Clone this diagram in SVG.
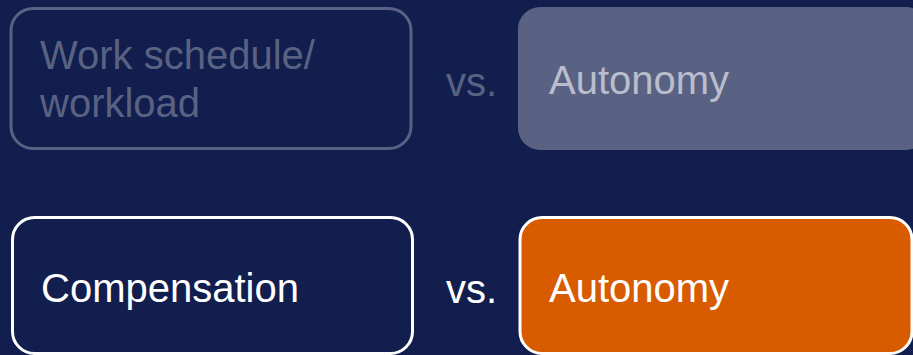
<svg xmlns="http://www.w3.org/2000/svg" width="913" height="355" viewBox="0 0 913 355">
  <style>
    .lbl { font-family: "Liberation Sans", Arial, sans-serif; font-size: 40px; }
    .muted-box { fill: none; stroke: #596283; stroke-width: 3; }
    .muted-fill { fill: #596283; }
    .muted-text { fill: #596283; }
    .soft-text { fill: #b9bdcc; }
    .bright-box { fill: #121e4d; stroke: #ffffff; stroke-width: 3; }
    .accent-box { fill: #d95b00; stroke: #ffffff; stroke-width: 3; }
    .white-text { fill: #ffffff; }
  </style>
  <rect width="913" height="355" fill="#121e4d"/>

  <!-- Row 1 (dimmed) -->
  <g id="node-work-schedule">
    <rect class="muted-box" x="11" y="8.5" width="400" height="140" rx="22"/>
    <text class="lbl muted-text" x="40" y="69">Work schedule/</text>
    <text class="lbl muted-text" x="40" y="117">workload</text>
  </g>
  <g id="vs-row1">
    <text class="lbl muted-text" x="446" y="96">vs.</text>
  </g>
  <g id="node-autonomy-1">
    <rect class="muted-fill" x="518" y="7" width="410" height="143" rx="22"/>
    <text class="lbl soft-text" x="549" y="94">Autonomy</text>
  </g>

  <!-- Row 2 (highlighted) -->
  <g id="node-compensation">
    <rect class="bright-box" x="12.5" y="217.5" width="400" height="136" rx="22"/>
    <text class="lbl white-text" x="41" y="302">Compensation</text>
  </g>
  <g id="vs-row2">
    <text class="lbl white-text" x="446" y="303">vs.</text>
  </g>
  <g id="node-autonomy-2">
    <rect class="accent-box" x="520" y="217.5" width="392" height="136" rx="22"/>
    <text class="lbl white-text" x="549" y="302">Autonomy</text>
  </g>

  <g id="connectors"/>
</svg>
